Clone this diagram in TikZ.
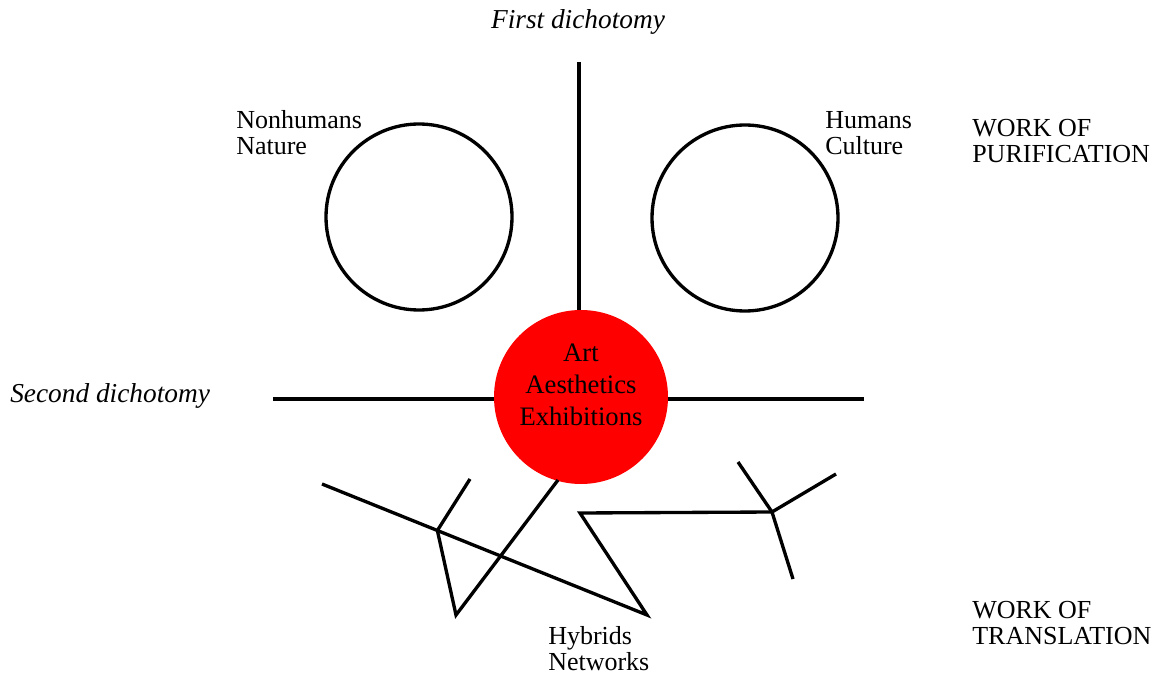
\documentclass[tikz,border=0pt]{standalone}
\usepackage{fontspec}
\usepackage{tikz}
\usetikzlibrary{calc,positioning}
\setmainfont{Liberation Serif}
\definecolor{artred}{RGB}{255,0,0}

\tikzset{
  line/.style={line width=2.5pt},
  lbl/.style={inner sep=0pt, anchor=west, align=left, font=\fontsize{19.5}{19.5}\selectfont},
  dich/.style={inner sep=0pt, font=\fontsize{20.5}{22}\selectfont\itshape}
}

\begin{document}
\begin{tikzpicture}[x=0.75pt,y=-0.75pt]
  \useasboundingbox (0,0) rectangle (1164,677);

  % Purified poles
  \node[draw, circle, line width=2.5pt, minimum size=139.5pt] (nature) at (419,217) {};
  \node[draw, circle, line width=2.5pt, minimum size=139.5pt] (culture) at (745,218) {};
  \node[lbl] (nonhum) at (236,133) {Nonhumans\\Nature};
  \node[lbl] (hum) at (825,133) {Humans\\Culture};

  % Red centre
  \node[circle, fill=artred, minimum size=130.5pt, inner sep=0pt] (art) at (581,397) {};
  \node[align=center, inner sep=0pt, font=\fontsize{20}{24}\selectfont] (arttxt) at (581,385)
    {Art\\Aesthetics\\Exhibitions};

  % Dichotomies
  \node[dich] (first) at (578,22) {First dichotomy};
  \node[dich, anchor=west] (second) at (10,396) {Second dichotomy};
  \coordinate (fd) at (579,62);
  \coordinate (sdl) at (273,399);
  \coordinate (sdr) at (864,399);
  \draw[line] (fd) -- (fd |- art.north);
  \draw[line] (sdl) -- (sdl -| art.west);
  \draw[line] (sdr) -- (sdr -| art.east);

  % Hybrids network
  \coordinate (a1) at (322,484);
  \coordinate (a2) at (647,615);
  \coordinate (j1) at ($(a1)!0.355!(a2)$);
  \coordinate (b1) at (470,479);
  \coordinate (b2) at (456,615);
  \coordinate (b3) at (558,480);
  \coordinate (c1) at (580,513);
  \coordinate (j2) at (772,512);
  \coordinate (d1) at (738,462);
  \coordinate (d2) at (836,474);
  \coordinate (d3) at (793,579);
  \draw[line] (a1) -- (a2) -- (c1) -- (j2);
  \draw[line] (b1) -- (j1) -- (b2) -- (b3);
  \draw[line] (d1) -- (j2) -- (d2);
  \draw[line] (j2) -- (d3);
  \node[lbl] (hyb) at (548,649) {Hybrids\\Networks};

  % Work labels
  \node[lbl] (purif) at (972,141) {WORK OF\\PURIFICATION};
  \node[lbl] (transl) at (972,623) {WORK OF\\TRANSLATION};
\end{tikzpicture}
\end{document}
